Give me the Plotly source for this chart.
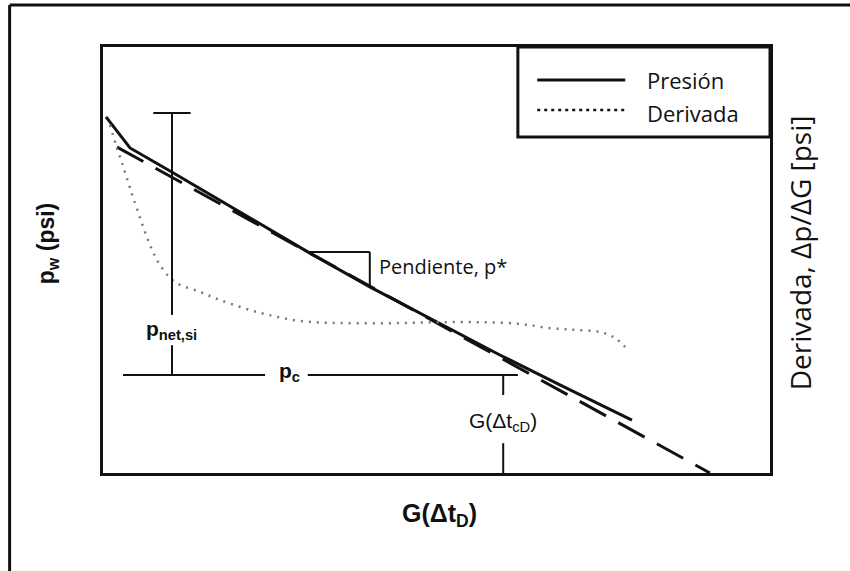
import plotly.graph_objects as go

# Pressure decline vs. G-function (axis units 0-10 on both axes)
g_presion = [0.045, 0.405, 1.005, 3.07, 4.00, 4.90, 5.95, 6.85, 7.93]
p_presion = [8.36, 7.63, 7.09, 5.19, 4.37, 3.64, 2.77, 2.07, 1.24]

# Straight-line extrapolation of the pressure trend
g_recta = [0.21, 9.10]
p_recta = [7.65, 0.0]

# Pressure derivative dp/dG
g_deriv = [0.105, 0.195, 0.285, 0.405, 0.555, 0.705, 0.855, 1.08, 1.455, 1.755,
           2.355, 2.955, 3.553, 4.453, 5.052, 5.652, 6.252, 6.702, 7.076, 7.451,
           7.676, 7.871]
p_deriv = [8.17, 7.70, 7.28, 6.69, 5.99, 5.35, 4.88, 4.48, 4.25, 4.06,
           3.76, 3.57, 3.52, 3.52, 3.54, 3.54, 3.50, 3.40, 3.36, 3.31,
           3.17, 2.89]

# Closure reference points
g_cierre = 6.00      # G(Δt_cD)
p_cierre = 2.30      # closure pressure level p_c
p_isip = 8.45        # top of the p_net,si bracket
g_bracket = 1.034

# Slope triangle on the pressure line
tri_g = [3.07, 4.00]
tri_p = [5.19, 4.37]

ARIAL = "Liberation Sans, Arial, sans-serif"
SANS = "Open Sans, Noto Sans, sans-serif"
BLACK = "#111111"

fig = go.Figure()
fig.add_trace(go.Scatter(x=g_presion, y=p_presion, mode="lines",
                         line=dict(color=BLACK, width=3), name="Presión"))
fig.add_trace(go.Scatter(x=g_recta, y=p_recta, mode="lines",
                         line=dict(color=BLACK, width=3, dash="30px,14px"), name="Recta"))
fig.add_trace(go.Scatter(x=g_deriv, y=p_deriv, mode="lines", line_shape="spline",
                         line=dict(color="#777777", width=2.5, dash="2px,6px"), name="Derivada"))

shapes = []
def seg(x0, y0, x1, y1, w=2):
    shapes.append(dict(type="line", xref="x", yref="y", x0=x0, y0=y0, x1=x1, y1=y1,
                       line=dict(color=BLACK, width=w)))

# p_net,si bracket
seg(g_bracket - 0.28, p_isip, g_bracket + 0.28, p_isip)
seg(g_bracket, p_isip, g_bracket, 3.71)
seg(g_bracket, 3.00, g_bracket, p_cierre)
# closure pressure line p_c
seg(0.30, p_cierre, 2.43, p_cierre)
seg(3.07, p_cierre, 6.22, p_cierre)
# G(Δt_cD) marker
seg(g_cierre, p_cierre, g_cierre, 1.83)
seg(g_cierre, 0.70, g_cierre, 0.0)
# slope triangle
seg(tri_g[0], tri_p[0], tri_g[1], tri_p[0])
seg(tri_g[1], tri_p[0], tri_g[1], tri_p[1])

# legend box and samples
shapes.append(dict(type="rect", xref="paper", yref="paper", x0=0.622, y0=0.789, x1=1.0, y1=1.0,
                   line=dict(color=BLACK, width=3), fillcolor="white", layer="above"))
shapes.append(dict(type="line", xref="paper", yref="paper", x0=0.651, y0=0.9225, x1=0.783, y1=0.9225,
                   line=dict(color=BLACK, width=3)))
shapes.append(dict(type="line", xref="paper", yref="paper", x0=0.651, y0=0.852, x1=0.783, y1=0.852,
                   line=dict(color=BLACK, width=2.5, dash="3px,4px")))
# outer frame (top and left edges)
shapes.append(dict(type="line", xref="paper", yref="paper", x0=-0.140, y0=1.0986, x1=1.2, y1=1.0986,
                   line=dict(color=BLACK, width=3)))
shapes.append(dict(type="line", xref="paper", yref="paper", x0=-0.140, y0=1.0986, x1=-0.140, y1=-0.25,
                   line=dict(color=BLACK, width=3)))

def label(x, y, text, family, size, ref="x", xanchor="center", angle=0, weight="normal"):
    return dict(x=x, y=y, xref=ref if ref == "x" else "paper", yref="y" if ref == "x" else "paper",
                text=text, showarrow=False, xanchor=xanchor, yanchor="middle", textangle=angle,
                font=dict(family=family, size=size, color=BLACK, weight=weight))

annotations = [
    label(g_bracket, 3.36, "p<sub>net,si</sub>", ARIAL, 21, weight="bold"),
    label(2.80, 2.37, "p<sub>c</sub>", ARIAL, 21, weight="bold"),
    label(g_cierre, 1.20, "G(Δt<sub>cD</sub>)", ARIAL, 21),
    label(4.11, 4.84, "Pendiente, p*", SANS, 20, xanchor="left"),
    label(0.8126, 0.9225, "Presión", SANS, 22, ref="paper", xanchor="left"),
    label(0.8126, 0.846, "Derivada", SANS, 22, ref="paper", xanchor="left"),
    label(-0.082, 0.54, "p<sub>w</sub> (psi)", ARIAL, 23, ref="paper", angle=-90, weight="bold"),
    label(1.045, 0.516, "Derivada, Δp/ΔG [psi]", SANS, 28, ref="paper", angle=-90),
    label(0.505, -0.098, "G(Δt<sub>D</sub>)", ARIAL, 25, ref="paper", weight="bold"),
]

axis = dict(range=[0, 10], showgrid=False, zeroline=False, showticklabels=False, ticks="",
            showline=True, linecolor=BLACK, linewidth=3, mirror=True, fixedrange=True)

fig.update_layout(
    width=850, height=571,
    margin=dict(l=103, r=80, t=47, b=98),
    paper_bgcolor="white", plot_bgcolor="white",
    showlegend=False,
    xaxis=axis, yaxis=axis,
    shapes=shapes, annotations=annotations,
)

fig.write_html("out.html")
